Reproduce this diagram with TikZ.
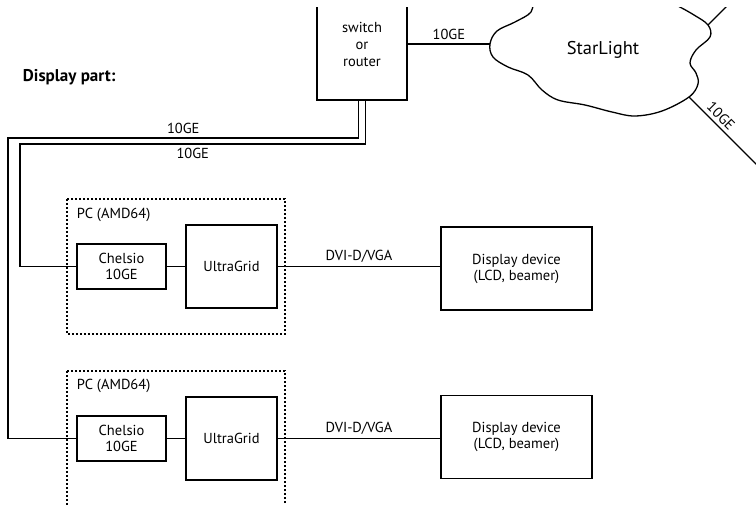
\documentclass[tikz,border=0pt]{standalone}
\usepackage{fontspec}
\setmainfont{PT Sans}
\usetikzlibrary{positioning}

\begin{document}
\begin{tikzpicture}[x=1pt, y=-1pt, line width=1.3pt,
  lbl/.style={font=\fontsize{14.5}{16}\selectfont},
  box/.style={draw, lbl, align=center, inner sep=0pt},
  pcframe/.style={draw, line width=1.4pt, dash pattern=on 2.2pt off 1.8pt}]
\useasboundingbox (0,0) rectangle (756,505);
\begin{scope}
\clip (0,8) rectangle (756,505);

% core: switch and the StarLight cloud
\node[box, minimum width=90, minimum height=112] (sw) at (362,44) {switch\\[1pt]or\\[1pt]router};
\draw plot[smooth, tension=0.6] coordinates {(533,-2) (531,12) (515,22) (497,31) (490,44) (493,57)
  (508,67) (528,75) (542,90) (558,100) (585,105) (612,112) (635,116) (662,111) (689,97)
  (698,84) (696,73) (690,63) (696,50) (710,37) (708,25) (694,15) (678,6) (662,-2)};
\coordinate (cw) at (490,44);
\coordinate (cse) at (689,97);
\coordinate (cne) at (708,25);
\coordinate (seend) at (766,174);
\coordinate (neend) at (736,-3);
\node[font=\fontsize{18.5}{20}\selectfont] (sl) at (603,50) {StarLight};
\draw (sw.east |- cw) -- node[lbl, above] {10GE} (cw);
\draw (cse) -- node[lbl, sloped, above, pos=0.33] {10GE} (seend);
\draw (cne) -- (neend);

\node[font=\fontsize{17}{19}\selectfont\bfseries, anchor=west] (title) at (19,77) {Display part:};

% first PC
\draw[pcframe] (67,199) rectangle (285,334);
\node[lbl, anchor=west] (pc1) at (73,215) {PC (AMD64)};
\node[box, minimum width=89, minimum height=45] (ch1) at (121.5,266.5) {Chelsio\\10GE};
\node[box, minimum width=91, minimum height=83] (ug1) at (231.5,266.5) {UltraGrid};
\node[box, minimum width=151, minimum height=83] (dd1) at (516.5,268.5) {Display device\\(LCD, beamer)};
\draw (ch1) -- (ug1);
\draw (ug1.east) -- node[lbl, above] {DVI-D/VGA} (ug1.east -| dd1.west);

% second PC
\draw[pcframe] (67,371) rectangle (285,520);
\node[lbl, anchor=west] (pc2) at (73,386) {PC (AMD64)};
\node[box, minimum width=89, minimum height=45] (ch2) at (121.5,438.5) {Chelsio\\10GE};
\node[box, minimum width=91, minimum height=83] (ug2) at (231.5,438.5) {UltraGrid};
\node[box, minimum width=151, minimum height=83] (dd2) at (516.5,437) {Display device\\(LCD, beamer)};
\draw (ch2) -- (ug2);
\draw (ug2.east) -- node[lbl, above] {DVI-D/VGA} (ug2.east -| dd2.west);

% 10GE links down to the PCs
\coordinate (busA) at (8,138);
\coordinate (busB) at (20,144);
\draw ([xshift=-3.5pt]sw.south) |- node[lbl, above, pos=0.75] {10GE} (busA) |- (ch2.west);
\draw ([xshift=3.5pt]sw.south) |- node[lbl, below, pos=0.75] {10GE} (busB) |- (ch1.west);
\end{scope}
\end{tikzpicture}
\end{document}
